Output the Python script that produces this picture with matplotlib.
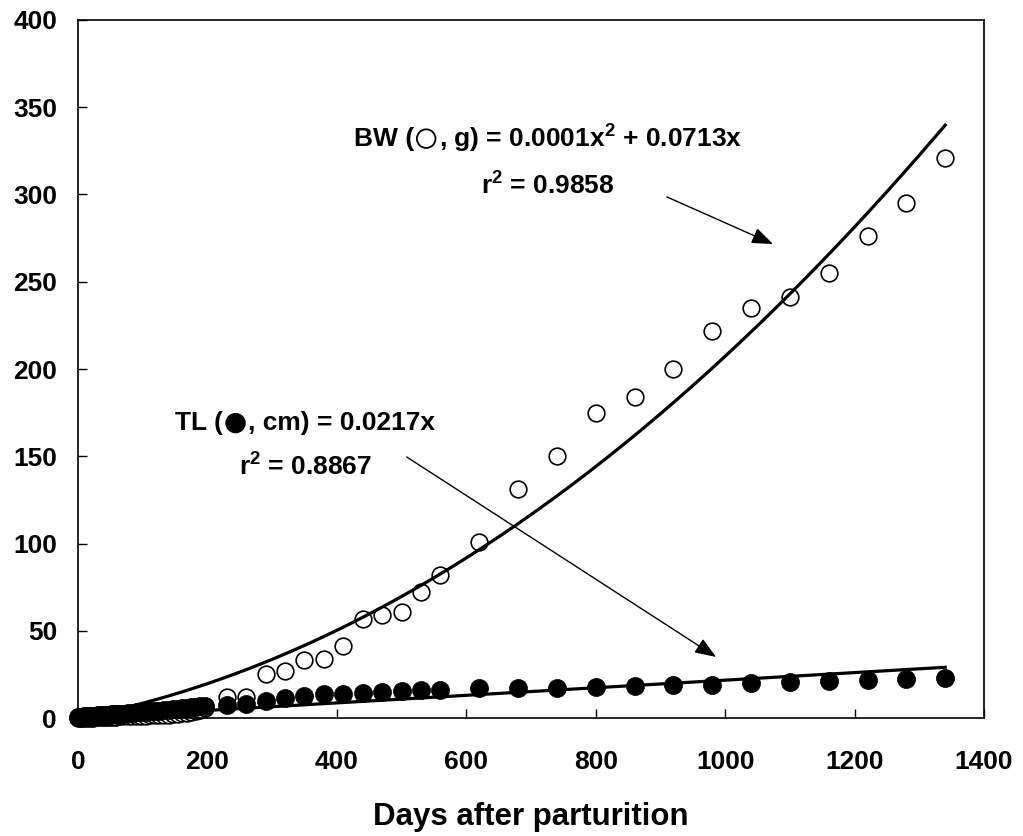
import numpy as np
import matplotlib.pyplot as plt
from matplotlib import rcParams
from matplotlib.offsetbox import (AnnotationBbox, DrawingArea, HPacker,
                                  TextArea)
from matplotlib.patches import Circle

rcParams.update({
    "font.family": ["Liberation Sans", "DejaVu Sans"],
    "font.weight": "bold",
    "mathtext.fontset": "custom",
    "mathtext.rm": "Liberation Sans:bold",
    "mathtext.bf": "Liberation Sans:bold",
    "mathtext.default": "rm",
})

# ---------- data -------------------------------------------------------------
days = [0, 2, 5, 7, 10, 14, 17, 21, 24, 28, 31, 35, 38, 42, 45, 49, 52, 56,
        59, 63, 70, 77, 84, 91, 98, 105, 112, 119, 126, 133, 140, 147, 154,
        161, 168, 175, 182, 189, 196,
        230, 260, 290, 320, 350, 380, 410, 440, 470, 500, 530, 560,
        620, 680, 740, 800, 860, 920, 980, 1040, 1100, 1160, 1220, 1280, 1340]

bw = [0.1, 0.1, 0.1, 0.2, 0.2, 0.2, 0.3, 0.3, 0.3, 0.4, 0.4, 0.5, 0.5, 0.6,
      0.6, 0.7, 0.7, 0.8, 0.8, 0.9, 1.0, 1.0, 1.1, 1.2, 1.3, 1.4, 1.5, 1.6,
      1.7, 1.8, 2.0, 2.2, 2.4, 2.7, 3.0, 3.4, 3.9, 4.5, 5.5,
      12, 12, 25, 27, 33, 34, 41, 57, 59, 61, 72, 82,
      101, 131, 150, 175, 184, 200, 222, 235, 241, 255, 276, 295, 321]

tl = [0.5, 0.6, 0.7, 0.8, 0.9, 1.0, 1.1, 1.2, 1.3, 1.4, 1.5, 1.6, 1.7, 1.8,
      1.9, 2.0, 2.1, 2.2, 2.3, 2.4, 2.6, 2.8, 3.0, 3.2, 3.5, 3.7, 3.9, 4.1,
      4.3, 4.5, 4.8, 5.0, 5.3, 5.6, 5.9, 6.2, 6.5, 6.8, 7.1,
      7.5, 7.8, 10, 11.5, 12.5, 13.5, 14, 14.5, 15, 15.5, 16, 16,
      17, 17.5, 17.5, 18, 18.5, 19, 19, 20, 20.5, 21, 22, 22.5, 23]

# trendline coefficients (BW quadratic term un-rounded to match drawn curve)
BW_A, BW_B = 0.000136, 0.0713
TL_A = 0.0217

x_ticks = [0, 200, 400, 600, 800, 1000, 1200, 1400]
y_ticks = [0, 50, 100, 150, 200, 250, 300, 350, 400]

FS = 19


def equation_box(ax, xy, before, after, filled):
    """Text line with an inline circle symbol, centred on xy (data)."""
    props = dict(fontsize=FS, fontweight="bold", color="black")
    d = 15
    da = DrawingArea(d, d, 0, 0)
    da.add_artist(Circle((d / 2, d / 2), d / 2 - 0.8,
                         facecolor="black" if filled else "white",
                         edgecolor="black", lw=1.3))
    box = HPacker(children=[TextArea(before, textprops=props), da,
                            TextArea(after, textprops=props)],
                  align="center", pad=0, sep=1.5)
    ab = AnnotationBbox(box, xy, xycoords="data", frameon=False,
                        box_alignment=(0.5, 0.5), pad=0)
    ax.add_artist(ab)


# ---------- figure -----------------------------------------------------------
fig = plt.figure(figsize=(10.23, 8.36), dpi=100)
ax = fig.add_axes([0.0762, 0.1411, 0.8857, 0.835])

ax.plot(days, bw, "o", ms=12, mfc="white", mec="black", mew=1.2, zorder=2,
        clip_on=False)
ax.plot(days, tl, "o", ms=13, mfc="black", mec="black", mew=0.5, zorder=3,
        clip_on=False)

xx = np.linspace(0, max(days), 200)
ax.plot(xx, BW_A * xx ** 2 + BW_B * xx, color="black", lw=2.3, zorder=4)
ax.plot(xx, TL_A * xx, color="black", lw=2.3, zorder=4)

ax.set_xlim(0, 1400)
ax.set_ylim(0, 400)
ax.set_xticks(x_ticks)
ax.set_yticks(y_ticks)
ax.tick_params(direction="in", length=6.5, width=1.0, labelsize=FS,
               top=False, right=False)
ax.tick_params(axis="x", pad=23)
ax.tick_params(axis="y", pad=15)
for lab in ax.get_xticklabels() + ax.get_yticklabels():
    lab.set_fontweight("bold")
for sp in ax.spines.values():
    sp.set_linewidth(1.2)

ax.set_xlabel("Days after parturition", fontsize=22.5, fontweight="bold",
              labelpad=20)

equation_box(ax, (726, 332), "BW (", ", g) = 0.0001x$^2$ + 0.0713x", False)
ax.text(726, 305, "r$^2$ = 0.9858", ha="center", va="center",
        fontsize=FS, fontweight="bold")
equation_box(ax, (351, 169), "TL (", ", cm) = 0.0217x", True)
ax.text(351, 144, "r$^2$ = 0.8867", ha="center", va="center",
        fontsize=FS, fontweight="bold")

arrow = dict(arrowstyle="-|>,head_length=1.3,head_width=0.5",
             color="black", lw=1.0, shrinkA=0, shrinkB=0)
ax.annotate("", xy=(1074, 271.6), xytext=(910, 298.6), arrowprops=arrow)
ax.annotate("", xy=(986, 35), xytext=(508, 149.6), arrowprops=arrow)

fig.savefig("out.png", dpi=100)
